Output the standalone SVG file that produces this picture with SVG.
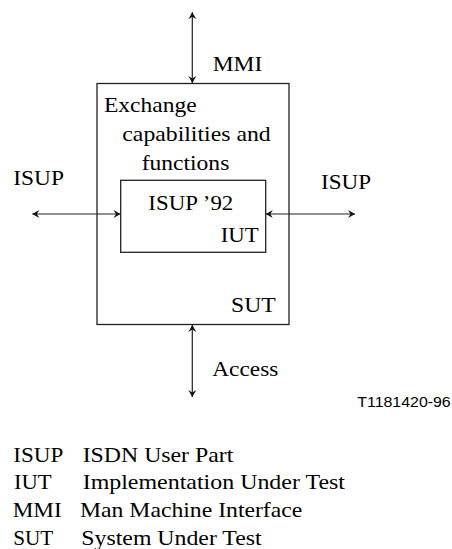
<svg xmlns="http://www.w3.org/2000/svg" width="452" height="549" viewBox="0 0 452 549">
  <style>
    .box { fill: none; stroke: #222; stroke-width: 1.3; }
    .link { fill: none; stroke: #222; stroke-width: 1.2; }
    .t { font-family: "Liberation Serif", "Times New Roman", serif; font-size: 21px; fill: #000; }
    .code { font-family: "Liberation Sans", Arial, sans-serif; font-size: 14px; fill: #000; }
  </style>
  <defs>
    <marker id="head" viewBox="-8 -5 10 10" refX="0" refY="0" markerWidth="10" markerHeight="10" markerUnits="userSpaceOnUse" orient="auto-start-reverse">
      <path d="M0,0 L-7,-4 L-4.5,0 L-7,4 Z" fill="#111"/>
    </marker>
  </defs>
  <rect width="452" height="549" fill="#fff"/>

  <!-- System under test -->
  <g id="sut">
    <rect class="box" x="97" y="83.5" width="192" height="241"/>
    <text class="t" x="104" y="112" textLength="92.7" lengthAdjust="spacingAndGlyphs">Exchange</text>
    <text class="t" x="122.3" y="141" textLength="148.4" lengthAdjust="spacingAndGlyphs">capabilities and</text>
    <text class="t" x="141.7" y="170" textLength="87.6" lengthAdjust="spacingAndGlyphs">functions</text>
    <text class="t" x="231" y="311.5" textLength="44.7" lengthAdjust="spacingAndGlyphs">SUT</text>
  </g>

  <!-- Implementation under test -->
  <g id="iut">
    <rect class="box" x="120.7" y="180.3" width="145" height="72"/>
    <text class="t" x="148.3" y="210" textLength="85" lengthAdjust="spacingAndGlyphs">ISUP ’92</text>
    <text class="t" x="220.7" y="242.3" textLength="38" lengthAdjust="spacingAndGlyphs">IUT</text>
  </g>

  <!-- Interface labels -->
  <g id="labels">
    <text class="t" x="212.7" y="70.5" textLength="49.6" lengthAdjust="spacingAndGlyphs">MMI</text>
    <text class="t" x="13.3" y="185" textLength="50.7" lengthAdjust="spacingAndGlyphs">ISUP</text>
    <text class="t" x="321" y="189" textLength="50" lengthAdjust="spacingAndGlyphs">ISUP</text>
    <text class="t" x="212.3" y="375.7" textLength="66" lengthAdjust="spacingAndGlyphs">Access</text>
    <text class="code" x="357.3" y="406.7" textLength="93.4" lengthAdjust="spacingAndGlyphs">T1181420-96</text>
  </g>

  <!-- Connectors -->
  <g id="connectors">
    <line class="link" x1="192.3" y1="12.3" x2="192.3" y2="83" marker-start="url(#head)" marker-end="url(#head)"/>
    <line class="link" x1="192.3" y1="325" x2="192.3" y2="397" marker-start="url(#head)" marker-end="url(#head)"/>
    <line class="link" x1="32.3" y1="214" x2="120.5" y2="214" marker-start="url(#head)" marker-end="url(#head)"/>
    <line class="link" x1="265.8" y1="214" x2="355" y2="214" marker-start="url(#head)" marker-end="url(#head)"/>
  </g>

  <!-- Abbreviations -->
  <g id="legend">
    <text class="t" x="13.3" y="462" textLength="50" lengthAdjust="spacingAndGlyphs">ISUP</text>
    <text class="t" x="82.7" y="462" textLength="150.6" lengthAdjust="spacingAndGlyphs">ISDN User Part</text>
    <text class="t" x="14" y="489.3" textLength="37.7" lengthAdjust="spacingAndGlyphs">IUT</text>
    <text class="t" x="82.7" y="489.3" textLength="262.3" lengthAdjust="spacingAndGlyphs">Implementation Under Test</text>
    <text class="t" x="12.7" y="517.3" textLength="49" lengthAdjust="spacingAndGlyphs">MMI</text>
    <text class="t" x="80" y="517.3" textLength="222.3" lengthAdjust="spacingAndGlyphs">Man Machine Interface</text>
    <text class="t" x="13.3" y="545" textLength="40" lengthAdjust="spacingAndGlyphs">SUT</text>
    <text class="t" x="81.3" y="545" textLength="180.4" lengthAdjust="spacingAndGlyphs">System Under Test</text>
  </g>
</svg>
